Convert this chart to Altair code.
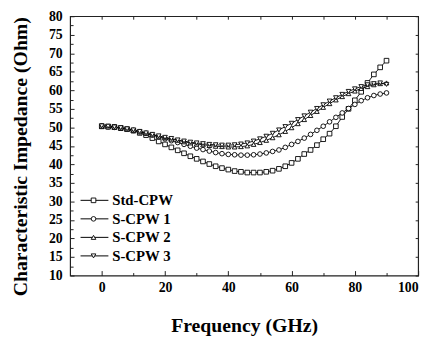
import altair as alt
import pandas as pd

freq = [0, 2, 4, 6, 8, 10, 12, 14, 16, 18, 20, 22, 24, 26, 28, 30, 32, 34, 36, 38,
        40, 42, 44, 46, 48, 50, 52, 54, 56, 58, 60, 62, 64, 66, 68, 70, 72, 74, 76, 78,
        80, 82, 84, 86, 88, 90]

std_cpw = [50.3, 50.2, 50.1, 49.8, 49.5, 49.1, 48.5, 47.9, 47.1, 46.2,
           45.4, 44.6, 43.8, 43.0, 42.2, 41.5, 40.8, 40.1, 39.5, 39.0,
           38.6, 38.2, 38.0, 37.8, 37.8, 37.8, 38.0, 38.3, 38.8, 39.5,
           40.4, 41.5, 42.8, 43.9, 45.2, 46.8, 48.3, 50.3, 52.8, 55.0,
           57.3, 59.6, 62.0, 64.3, 66.2, 68.0]

s_cpw1 = [50.3, 50.2, 50.0, 49.8, 49.5, 49.2, 48.8, 48.4, 47.9, 47.4,
          46.9, 46.4, 45.9, 45.4, 44.9, 44.4, 44.0, 43.6, 43.2, 42.9,
          42.7, 42.6, 42.5, 42.5, 42.6, 42.8, 43.1, 43.5, 43.9, 44.6,
          45.4, 46.2, 47.1, 48.1, 49.2, 50.3, 51.5, 52.7, 53.9, 55.1,
          56.2, 57.2, 58.0, 58.6, 59.0, 59.3]

s_cpw2 = [50.2, 50.1, 50.0, 49.8, 49.5, 49.2, 48.8, 48.4, 48.0, 47.6,
          47.2, 46.8, 46.5, 46.1, 45.8, 45.5, 45.3, 45.1, 44.9, 44.8,
          44.7, 44.7, 44.8, 45.0, 45.4, 45.9, 46.5, 47.2, 48.0, 48.9,
          49.9, 51.0, 52.1, 53.2, 54.3, 55.4, 56.4, 57.4, 58.3, 59.1,
          59.8, 60.5, 61.0, 61.5, 61.8, 62.0]

s_cpw3 = [50.4, 50.3, 50.1, 49.9, 49.6, 49.3, 48.9, 48.5, 48.1, 47.7,
          47.3, 47.0, 46.6, 46.3, 46.0, 45.8, 45.6, 45.4, 45.3, 45.2,
          45.2, 45.3, 45.5, 45.8, 46.3, 46.9, 47.6, 48.4, 49.3, 50.2,
          51.1, 52.1, 53.1, 54.1, 55.1, 56.1, 57.1, 58.0, 58.9, 59.7,
          60.4, 61.0, 61.5, 61.8, 62.0, 61.6]

series_names = ["Std-CPW", "S-CPW 1", "S-CPW 2", "S-CPW 3"]
marker_shapes = ["square", "circle", "triangle-up", "triangle-down"]

# tick values
x_major = [0, 20, 40, 60, 80, 100]
x_minor = [10, 30, 50, 70, 90]
x_top = [0, 10, 20, 30, 40, 50, 60, 70, 80, 90]
y_major = [10, 15, 20, 25, 30, 35, 40, 45, 50, 55, 60, 65, 70, 75, 80]
y_minor = [12.5, 17.5, 22.5, 27.5, 32.5, 37.5, 42.5, 47.5, 52.5, 57.5, 62.5, 67.5, 72.5, 77.5]

# legend layout (in axis units)
legend_rows = [30.3, 25.3, 20.3, 15.3]
LEG_LINE_X0, LEG_LINE_X1, LEG_MARK_X, LEG_TEXT_X = -6.7, 2.1, -2.6, 3.3

rows = []
for name, vals in zip(series_names, [std_cpw, s_cpw1, s_cpw2, s_cpw3]):
    for f, v in zip(freq, vals):
        rows.append({"freq": f, "z": v, "series": name})
df = pd.DataFrame(rows)

leg_df = pd.DataFrame({
    "series": series_names,
    "row": legend_rows,
    "x0": [LEG_LINE_X0] * 4,
    "x1": [LEG_LINE_X1] * 4,
    "xm": [LEG_MARK_X] * 4,
    "xt": [LEG_TEXT_X] * 4,
})

FONT = "Liberation Serif"
xs = alt.Scale(domain=[-10, 100], nice=False, zero=False)
ys = alt.Scale(domain=[10, 80], nice=False, zero=False)
shape_scale = alt.Scale(domain=series_names, range=marker_shapes)


def tick_axis(orient, values, size):
    return alt.Axis(orient=orient, values=values, tickSize={"expr": str(-size)},
                    labels=False, domain=False, grid=False, title=None,
                    tickColor="#222", tickWidth=1)


x_bottom = alt.Axis(orient="bottom", values=x_major, tickSize={"expr": "-5"},
                    domain=False, grid=False, title="Frequency (GHz)",
                    labelPadding=10, labelFont=FONT, labelFontSize=14,
                    labelFontWeight="bold", labelColor="black",
                    titleFont=FONT, titleFontSize=20, titleFontWeight="bold",
                    titleColor="black", titleX=176.5, titleY=51,
                    titleBaseline="middle", tickColor="#222", tickWidth=1)
y_left = alt.Axis(orient="left", values=y_major, tickSize={"expr": "-4"},
                  domain=False, grid=False, title="Characteristic Impedance (Ohm)",
                  labelPadding=12, labelFont=FONT, labelFontSize=14,
                  labelFontWeight="bold", labelColor="black",
                  titleFont=FONT, titleFontSize=20, titleFontWeight="bold",
                  titleColor="black", titleX=-50, titleY=142,
                  titleBaseline="middle", tickColor="#222", tickWidth=1)

lines = alt.Chart(df).mark_line(color="black", strokeWidth=0.9).encode(
    x=alt.X("freq:Q", scale=xs, axis=x_bottom),
    y=alt.Y("z:Q", scale=ys, axis=y_left),
    detail="series:N",
)

points = alt.Chart(df).mark_point(
    filled=False, fill="white", stroke="black", strokeWidth=0.9, size=22, opacity=1
).encode(
    x=alt.X("freq:Q", scale=xs, axis=tick_axis("top", x_top, 3)),
    y=alt.Y("z:Q", scale=ys, axis=tick_axis("right", y_major, 3)),
    shape=alt.Shape("series:N", scale=shape_scale, legend=None),
)

leg_lines = alt.Chart(leg_df).mark_rule(color="black", strokeWidth=1).encode(
    x=alt.X("x0:Q", scale=xs, axis=tick_axis("bottom", x_minor, 3)),
    x2="x1:Q",
    y=alt.Y("row:Q", scale=ys, axis=tick_axis("left", y_minor, 3)),
)

leg_marks = alt.Chart(leg_df).mark_point(
    filled=False, fill="white", stroke="black", strokeWidth=0.9, size=22, opacity=1
).encode(
    x=alt.X("xm:Q", scale=xs, axis=None),
    y=alt.Y("row:Q", scale=ys, axis=None),
    shape=alt.Shape("series:N", scale=shape_scale, legend=None),
)

leg_text = alt.Chart(leg_df).mark_text(
    align="left", baseline="middle", font=FONT, fontSize=15, fontWeight="bold",
    color="black"
).encode(
    x=alt.X("xt:Q", scale=xs, axis=None),
    y=alt.Y("row:Q", scale=ys, axis=None),
    text="series:N",
)

chart = alt.layer(lines, points, leg_lines, leg_marks, leg_text).resolve_axis(
    x="independent", y="independent"
).properties(
    width=353, height=263,
    autosize=alt.AutoSizeParams(type="none"),
    padding={"left": 63, "top": 6, "right": 10, "bottom": 60},
    background="white",
).configure_view(stroke="#222", strokeWidth=1.2)

chart.save("out.html", embed_options={"renderer": "svg", "actions": False})
